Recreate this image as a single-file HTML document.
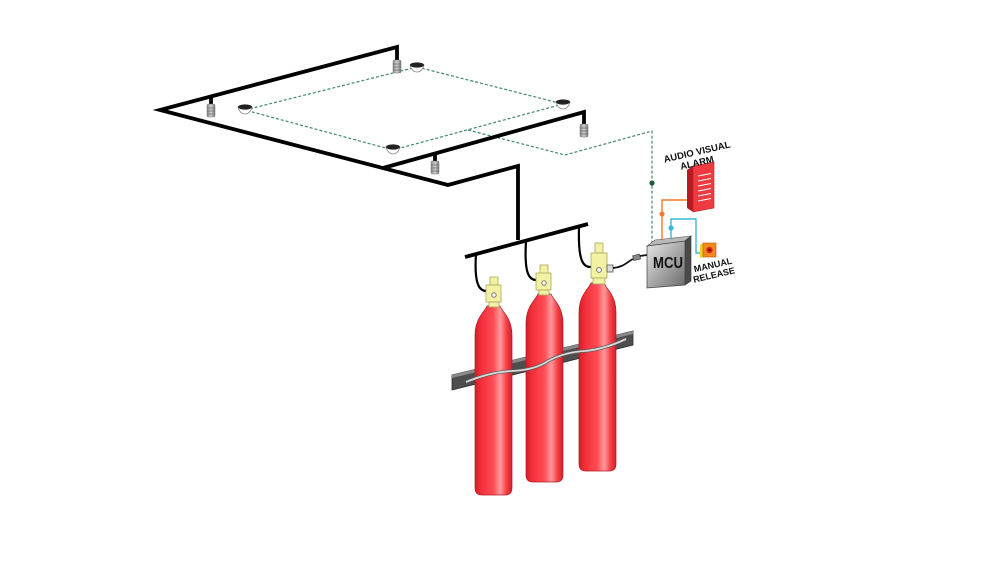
<!DOCTYPE html>
<html><head><meta charset="utf-8"><style>
html,body{margin:0;padding:0;background:#fff;}
svg{display:block;}
text{font-family:"Liberation Sans",Arial,sans-serif;font-weight:bold;fill:#111;}
</style></head><body>
<svg width="1000" height="571" viewBox="0 0 1000 571" xmlns="http://www.w3.org/2000/svg">
<defs>
<linearGradient id="cyl" x1="0" y1="0" x2="1" y2="0">
<stop offset="0" stop-color="#d41c26"/>
<stop offset="0.15" stop-color="#f22e38"/>
<stop offset="0.5" stop-color="#ff4d55"/>
<stop offset="0.68" stop-color="#ff9a9c"/>
<stop offset="0.85" stop-color="#f53f48"/>
<stop offset="1" stop-color="#d01e28"/>
</linearGradient>
<linearGradient id="mcu" x1="0" y1="0" x2="1" y2="1">
<stop offset="0" stop-color="#e8e8e8"/>
<stop offset="1" stop-color="#6a6a6a"/>
</linearGradient>
<linearGradient id="sp" x1="0" y1="0" x2="1" y2="0">
<stop offset="0" stop-color="#8a8a8a"/>
<stop offset="0.5" stop-color="#d0d0d0"/>
<stop offset="1" stop-color="#7a7a7a"/>
</linearGradient>
<g id="spr">
<rect x="-4" y="0" width="8" height="13" rx="1.5" fill="url(#sp)" stroke="#777" stroke-width="0.5"/>
<line x1="-4" y1="4" x2="4" y2="4" stroke="#666" stroke-width="0.7"/>
<line x1="-4" y1="7" x2="4" y2="7" stroke="#666" stroke-width="0.7"/>
<line x1="-4" y1="10" x2="4" y2="10" stroke="#666" stroke-width="0.7"/>
</g>
<g id="det">
<path d="M-7,0 L7,0 Q5,7 0,7 Q-5,7 -7,0 Z" fill="#fff" stroke="#888" stroke-width="0.8"/>
<ellipse cx="0" cy="0" rx="7" ry="2.6" fill="#222"/>
</g>
</defs>

<!-- green dashed detection loop -->
<g fill="none" stroke="#3f8a6a" stroke-width="1.2" stroke-dasharray="3,2">
<path d="M417,67 L563,104 L393,150 L245,110 Z"/>
<path d="M468,130 L565,155 L652,131 L652,245"/>
</g>
<circle cx="652" cy="183" r="2.6" fill="#1f5a3a"/>

<!-- piping -->
<g fill="none" stroke="#000" stroke-width="3.8" stroke-linejoin="miter">
<path d="M397,62 L397,47 L160,110 L448,185 L518,166 L518,240"/>
<path d="M383,168 L584,112 L584,124"/>
<path d="M211,96 L211,105"/>
<path d="M435,153 L435,161"/>
<path d="M465,257 L588,224"/>
</g>

<!-- sprinklers -->
<use href="#spr" x="397" y="60"/>
<use href="#spr" x="211" y="104"/>
<use href="#spr" x="584" y="124"/>
<use href="#spr" x="435" y="161"/>

<!-- detectors -->
<use href="#det" x="417" y="65"/>
<use href="#det" x="245" y="107"/>
<use href="#det" x="563" y="102"/>
<use href="#det" x="393" y="147"/>

<!-- hoses -->
<g fill="none" stroke="#000" stroke-width="2.2">
<path d="M476,254 C474,284 479,292 488,291"/>
<path d="M526,241 C524,274 529,281 538,280"/>
<path d="M579,228 C578,261 583,268 592,267"/>
</g>

<!-- bracket bar (behind cylinders) -->
<polygon points="452,375 633,331 633,345 452,390" fill="#4e4e4e" stroke="#2e2e2e" stroke-width="0.8"/>
<polygon points="452,375 633,331 633,334 452,378" fill="#8a8a8a"/>

<!-- cylinders -->
<path d="M487,306 L500,306 C503,313 512,318 512,336 L512,488 Q512,495 505,495 L482,495 Q475,495 475,488 L475,336 C475,318 484,313 487,306 Z" fill="url(#cyl)" stroke="#b51a22" stroke-width="0.7"/>
<path d="M538,294 L551,294 C554,301 563,306 563,324 L563,475 Q563,482 556,482 L533,482 Q526,482 526,475 L526,324 C526,306 535,301 538,294 Z" fill="url(#cyl)" stroke="#b51a22" stroke-width="0.7"/>
<path d="M591,283 L604,283 C607,290 616,295 616,313 L616,464 Q616,471 609,471 L586,471 Q579,471 579,464 L579,313 C579,295 588,290 591,283 Z" fill="url(#cyl)" stroke="#b51a22" stroke-width="0.7"/>

<!-- strap -->
<path d="M466,382 Q490,372 512,371 Q535,370 548,361 Q565,352 585,351 Q605,349 626,339" fill="none" stroke="#555" stroke-width="3.2"/>
<path d="M466,382 Q490,372 512,371 Q535,370 548,361 Q565,352 585,351 Q605,349 626,339" fill="none" stroke="#d8d8d8" stroke-width="1.8"/>

<!-- valves -->
<g fill="#f2f2a2" stroke="#a8a860" stroke-width="0.8">
<rect x="490" y="277" width="8" height="9"/>
<rect x="486" y="285" width="15" height="17"/>
<rect x="489" y="302" width="10" height="5"/>
<rect x="540" y="265" width="8" height="9"/>
<rect x="536" y="273" width="15" height="17"/>
<rect x="539" y="290" width="10" height="5"/>
<rect x="595" y="243" width="8" height="10"/>
<rect x="591" y="253" width="16" height="25"/>
<rect x="593" y="278" width="12" height="6"/>
</g>
<g fill="#fff" stroke="#777" stroke-width="1">
<circle cx="494" cy="295" r="2.2"/>
<circle cx="544" cy="283" r="2.2"/>
<circle cx="599" cy="270" r="2.4"/>
</g>
<rect x="607" y="265" width="6" height="7" fill="#ddd" stroke="#555" stroke-width="0.8"/>

<!-- cable to MCU -->
<path d="M613,268 C624,267 627,262 633,259" fill="none" stroke="#111" stroke-width="1.8"/>
<rect x="633" y="255" width="7" height="5" fill="#888" stroke="#333" stroke-width="0.6" transform="rotate(-15 636 257)"/>
<path d="M640,256 L647,255" fill="none" stroke="#111" stroke-width="1.8"/>

<!-- orange and cyan wires -->
<path d="M662,245 L662,200 L688,200" fill="none" stroke="#f07a30" stroke-width="1.4"/>
<circle cx="662" cy="214" r="2.6" fill="#f07a30"/>
<path d="M671,243 L671,219 L696,219 L696,253 L702,253" fill="none" stroke="#3cb8d8" stroke-width="1.4"/>
<circle cx="671" cy="228" r="2.6" fill="#3cb8d8"/>

<!-- MCU box -->
<polygon points="647,246 655,240 691,236 685,241" fill="#b8b8b8" stroke="#555" stroke-width="0.6"/>
<polygon points="685,241 691,236 691,281 685,285" fill="#4a4a4a" stroke="#333" stroke-width="0.6"/>
<polygon points="647,246 685,241 685,285 647,288" fill="url(#mcu)" stroke="#444" stroke-width="0.7"/>
<text x="653" y="268" font-size="16" textLength="30" lengthAdjust="spacingAndGlyphs">MCU</text>

<!-- Audio visual alarm -->
<polygon points="687,170 693,166 693,212 687,208" fill="#b81c22"/>
<polygon points="693,166 714,162 714,208 693,212" fill="#ee3a40" stroke="#c02028" stroke-width="0.6"/>
<g stroke="#fff" stroke-width="1.1">
<line x1="698" y1="176" x2="711" y2="173.5"/>
<line x1="698" y1="181" x2="711" y2="178.5"/>
<line x1="698" y1="186" x2="711" y2="183.5"/>
<line x1="698" y1="191" x2="711" y2="188.5"/>
<line x1="698" y1="196" x2="711" y2="193.5"/>
<line x1="698" y1="201" x2="711" y2="198.5"/>
</g>
<text x="697" y="155" font-size="9.5" text-anchor="middle" transform="rotate(-13 697 152)">AUDIO VISUAL</text>
<text x="697" y="166" font-size="9.5" text-anchor="middle" transform="rotate(-13 697 163)">ALARM</text>

<!-- Manual release -->
<polygon points="700,245 703,243 703,257 700,258" fill="#f0d020"/>
<rect x="703" y="243" width="13" height="14" fill="#f08a20" stroke="#c05010" stroke-width="0.6"/>
<circle cx="709.5" cy="250" r="3.2" fill="#e02020"/>
<circle cx="709.5" cy="250" r="1.2" fill="#600"/>
<text x="713" y="268" font-size="9" text-anchor="middle" transform="rotate(-13 713 265)">MANUAL</text>
<text x="714" y="278" font-size="9" text-anchor="middle" transform="rotate(-13 714 275)">RELEASE</text>
</svg>
</body></html>
